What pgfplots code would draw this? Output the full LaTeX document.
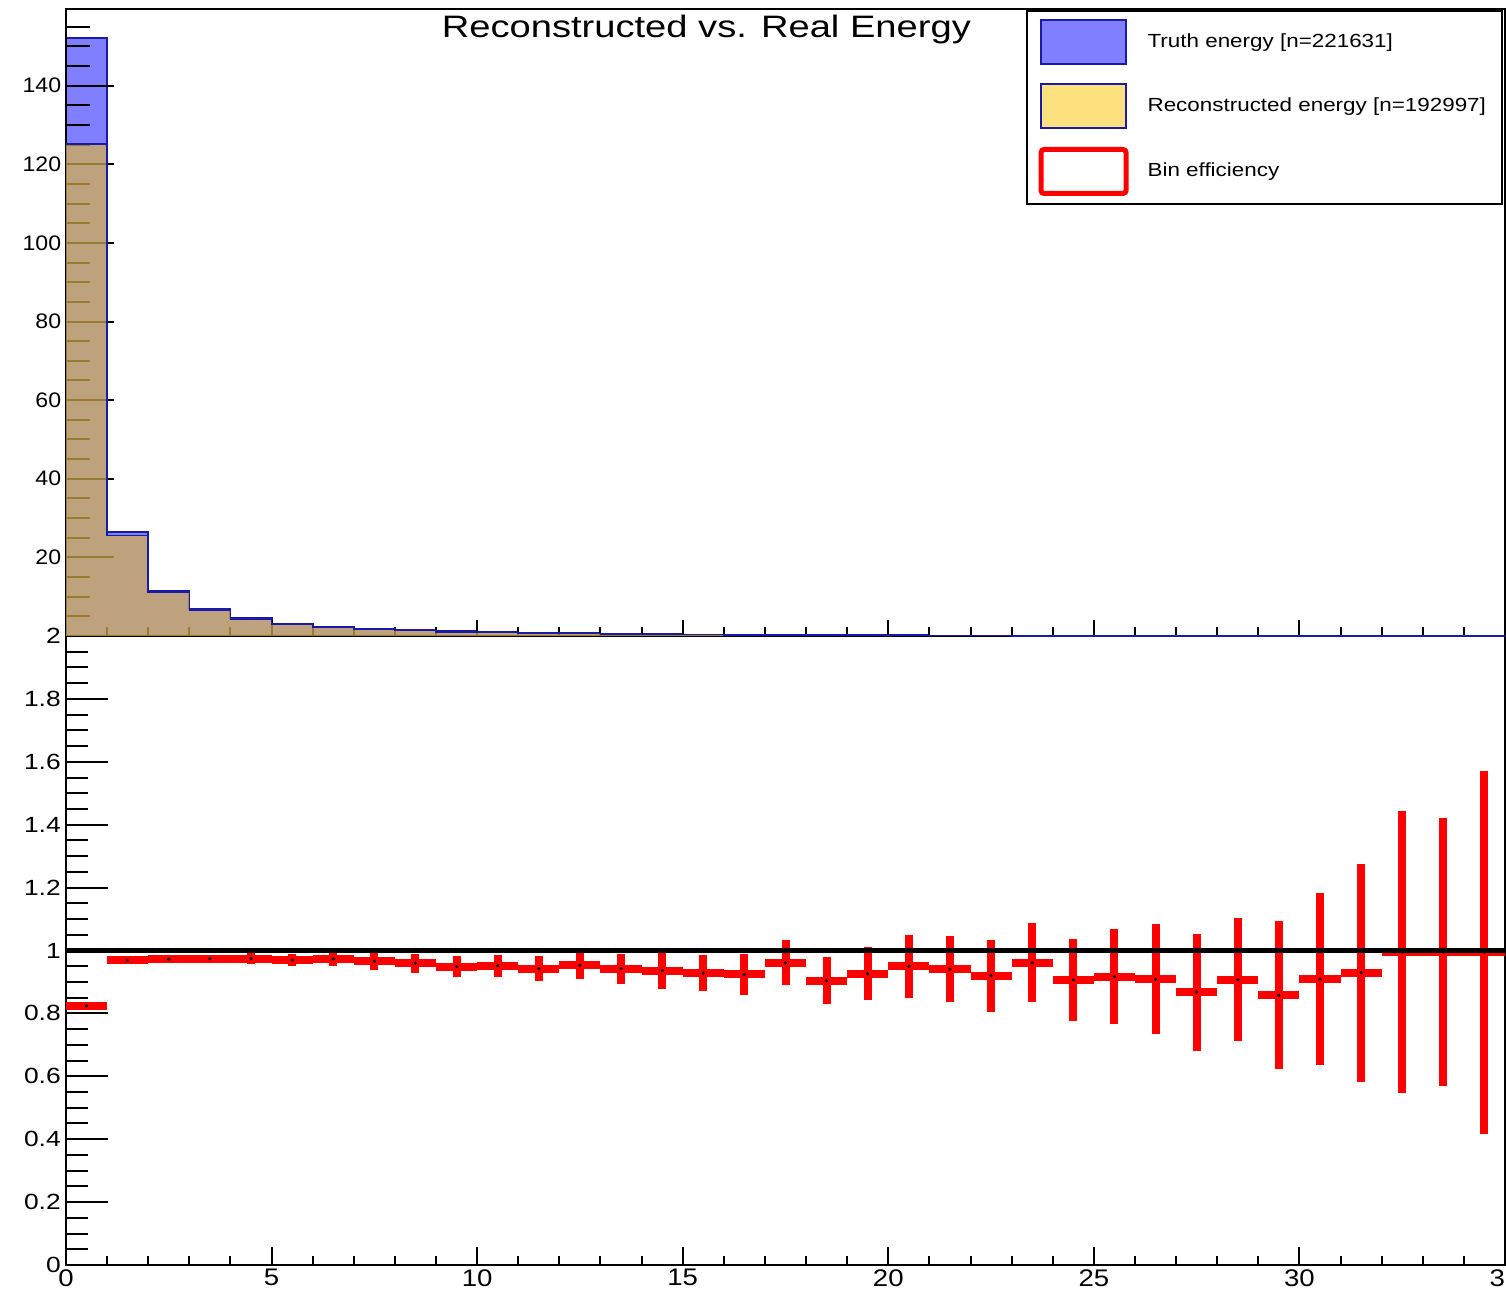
\documentclass[border=0pt]{standalone}
\usepackage{fontspec}
\setmainfont{Liberation Sans}
\usepackage{graphicx}
\usepackage{pgfplots}
\pgfplotsset{compat=1.18}
\usepackage{pgfplotstable}

\definecolor{truthfill}{RGB}{127,127,255}
\definecolor{truthline}{RGB}{25,25,170}
\definecolor{recofill}{RGB}{217,177,70}
\definecolor{recoleg}{RGB}{253,225,127}

% histograms, bin left edge (width 1), last row repeats the last bin
\pgfplotstableread{
x  truth  reco
0  152    125.2
1  26.4   25.58
2  11.4   11.08
3  6.8    6.62
4  4.5    4.38
5  3.1    3.01
6  2.3    2.24
7  1.8    1.74
8  1.45   1.39
9  1.15   1.09
10 0.95   0.90
11 0.8    0.75
12 0.65   0.62
13 0.55   0.52
14 0.45   0.42
15 0.37   0.34
16 0.3    0.28
17 0.25   0.24
18 0.2    0.18
19 0.16   0.148
20 0.13   0.124
21 0.11   0.104
22 0.09   0.083
23 0.07   0.067
24 0.06   0.054
25 0.05   0.046
26 0.04   0.036
27 0.033  0.029
28 0.027  0.024
29 0.022  0.019
30 0.018  0.016
31 0.014  0.013
32 0.011  0.011
33 0.009  0.009
34 0.007  0.007
35 0.007  0.007
}\histdata

% bin efficiency with errors
\pgfplotstableread{
x    eff    ex   ey
0.5  0.824  0.5  0.003
1.5  0.969  0.5  0.004
2.5  0.972  0.5  0.008
3.5  0.974  0.5  0.012
4.5  0.974  0.5  0.017
5.5  0.970  0.5  0.020
6.5  0.973  0.5  0.022
7.5  0.966  0.5  0.027
8.5  0.960  0.5  0.030
9.5  0.949  0.5  0.034
10.5 0.952  0.5  0.035
11.5 0.942  0.5  0.040
12.5 0.953  0.5  0.044
13.5 0.942  0.5  0.048
14.5 0.936  0.5  0.057
15.5 0.928  0.5  0.058
16.5 0.924  0.5  0.066
17.5 0.961  0.5  0.071
18.5 0.904  0.5  0.075
19.5 0.926  0.5  0.084
20.5 0.950  0.5  0.100
21.5 0.941  0.5  0.104
22.5 0.920  0.5  0.114
23.5 0.961  0.5  0.125
24.5 0.907  0.5  0.131
25.5 0.917  0.5  0.151
26.5 0.908  0.5  0.175
27.5 0.868  0.5  0.186
28.5 0.907  0.5  0.196
29.5 0.858  0.5  0.235
30.5 0.909  0.5  0.274
31.5 0.929  0.5  0.346
32.5 0.995  0.5  0.447
33.5 0.995  0.5  0.427
34.5 0.995  0.5  0.577
}\effdata

\newcommand{\wide}[1]{\scalebox{1.18}[1]{#1}}

\begin{document}
\begin{tikzpicture}
% lower pad: efficiency
\begin{axis}[
    at={(0,0)}, anchor=south west,
    scale only axis, width=719.5pt, height=314.5pt,
    xmin=0, xmax=35, ymin=0, ymax=2,
    xtick={0,5,...,35}, minor xtick={0,1,...,35},
    ytick={0,0.2,0.4,0.6,0.8,1,1.2,1.4,1.6,1.8,2},
    minor ytick={0,0.05,...,2},
    xtick pos=bottom, ytick pos=left, tick align=inside,
    axis line style={black, line width=1.2pt},
    tick style={black, line width=1pt},
    major x tick style={/pgfplots/major tick length=9pt},
    minor x tick style={/pgfplots/minor tick length=4.5pt},
    major y tick style={/pgfplots/major tick length=21pt},
    minor y tick style={/pgfplots/minor tick length=11pt},
    /pgf/number format/assume math mode=true,
    xticklabel style={font=\fontsize{12}{12}\selectfont, xscale=1.15, inner sep=2pt},
    yticklabel style={font=\fontsize{11}{11}\selectfont, xscale=1.2, inner sep=2pt},
]
\addplot [only marks, mark=*, mark size=0.6pt, black,
    error bars/.cd, x dir=both, x explicit, y dir=both, y explicit,
    error mark=none, error bar style={red, line width=4pt}]
    table [x=x, y=eff, x error=ex, y error=ey] {\effdata};
\addplot [black, line width=2.5pt] coordinates {(0,1) (35,1)};
\end{axis}

% upper pad: histograms
\begin{axis}[
    at={(0,314.5pt)}, anchor=south west,
    scale only axis, width=719.5pt, height=313.5pt,
    xmin=0, xmax=35, ymin=0, ymax=159.5,
    xtick={0,5,...,35}, minor xtick={0,1,...,35}, xticklabels={},
    ytick={0,20,...,140}, yticklabels={,20,40,60,80,100,120,140},
    minor ytick={0,5,...,155},
    xtick pos=bottom, ytick pos=left, tick align=inside,
    set layers, axis on top,
    axis line style={black, line width=1.2pt},
    tick style={black, line width=1pt},
    major x tick style={/pgfplots/major tick length=8pt},
    minor x tick style={/pgfplots/minor tick length=4.5pt},
    major y tick style={/pgfplots/major tick length=24pt},
    minor y tick style={/pgfplots/minor tick length=12pt},
    /pgf/number format/assume math mode=true,
    yticklabel style={font=\fontsize{10.5}{10.5}\selectfont, xscale=1.1, inner sep=2pt},
    legend image code/.code={\draw[#1] (0pt,-11pt) rectangle (42.5pt,11pt); \path (50pt,0pt);},
    legend style={at={(0.9986,0.9984)}, anchor=north east, draw=black,
        line width=1pt, fill=white, font=\fontsize{9.5}{12}\selectfont,
        row sep=9pt, inner xsep=6pt, inner ysep=4pt, cells={anchor=west}},
]
\addplot [const plot, fill=truthfill, draw=none, forget plot]
    table [x=x, y=truth] {\histdata} \closedcycle;
\addplot [const plot, draw=truthline, line width=1pt, forget plot]
    table [x=x, y=truth] {\histdata};
\addplot [const plot, on layer=axis foreground, fill=recofill, fill opacity=0.7,
    draw=none, forget plot]
    table [x=x, y=reco] {\histdata} \closedcycle;
\addplot [const plot, on layer=axis foreground, draw=truthline, line width=0.8pt, forget plot]
    table [x=x, y=reco] {\histdata};

\addlegendimage{fill=truthfill, draw=truthline, line width=1pt}
\addlegendentry{\wide{Truth energy [n=221631]}}
\addlegendimage{fill=recoleg, draw=truthline, line width=1pt}
\addlegendentry{\wide{Reconstructed energy [n=192997]}}
\addlegendimage{fill=white, draw=red, line width=2.5pt, rounded corners=1.5pt}
\addlegendentry{\wide{Bin efficiency}}

\node [font=\fontsize{15.5}{15.5}\selectfont, xscale=1.23] at (rel axis cs:0.445,1) [yshift=-10pt]
    {Reconstructed vs. Real Energy};
\end{axis}

\pgfresetboundingbox
\useasboundingbox (-33pt,-13.5pt) rectangle (720pt,632.5pt);
\end{tikzpicture}
\end{document}
